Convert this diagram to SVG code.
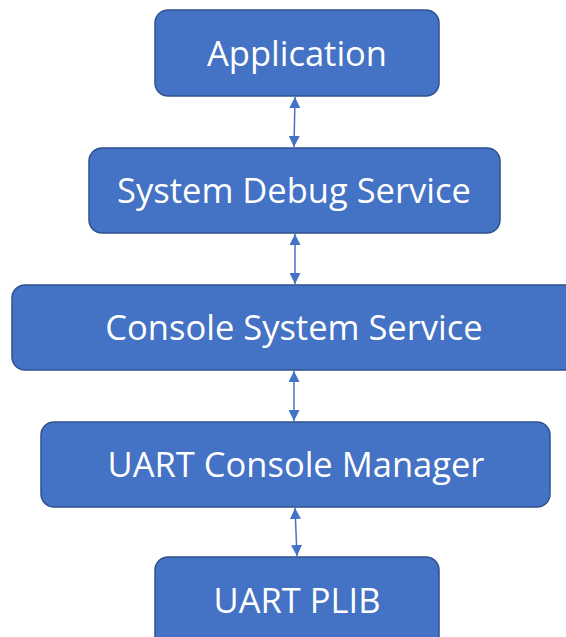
<svg xmlns="http://www.w3.org/2000/svg" width="566" height="637" viewBox="0 0 566 637">
<style>
.box{fill:#4472C4;stroke:#2F528F;stroke-width:1.5}
.lbl{fill:#FFFFFF;font-family:"Open Sans","Liberation Sans",sans-serif;font-size:34.5px;text-anchor:middle}
.con{stroke:#4472C4;stroke-width:1.5;fill:none;marker-start:url(#ah);marker-end:url(#ah)}
</style>
<defs>
<marker id="ah" viewBox="0 0 10 10" refX="10" refY="5" markerWidth="11" markerHeight="11" markerUnits="userSpaceOnUse" orient="auto-start-reverse">
<path d="M0,0 L10,5 L0,10 z" fill="#4472C4"/>
</marker>
</defs>
<rect width="566" height="637" fill="#FFFFFF"/>
<g id="connectors">
<line class="con" x1="295" y1="97" x2="294" y2="147"/>
<line class="con" x1="295" y1="234" x2="295" y2="284"/>
<line class="con" x1="294" y1="371" x2="294" y2="421"/>
<line class="con" x1="295" y1="508" x2="297" y2="556"/>
</g>
<g id="application">
<rect class="box" x="155" y="10" width="284" height="86" rx="13"/>
<text class="lbl" x="297" y="66">Application</text>
</g>
<g id="system-debug-service">
<rect class="box" x="89" y="148" width="411" height="85" rx="13"/>
<text class="lbl" x="294" y="203">System Debug Service</text>
</g>
<g id="console-system-service">
<rect class="box" x="12" y="285" width="570" height="85" rx="13"/>
<text class="lbl" x="294" y="340">Console System Service</text>
</g>
<g id="uart-console-manager">
<rect class="box" x="41" y="422" width="509" height="85" rx="13"/>
<text class="lbl" x="296" y="477">UART Console Manager</text>
</g>
<g id="uart-plib">
<rect class="box" x="155" y="557" width="284" height="100" rx="13"/>
<text class="lbl" x="297" y="613">UART PLIB</text>
</g>
</svg>
